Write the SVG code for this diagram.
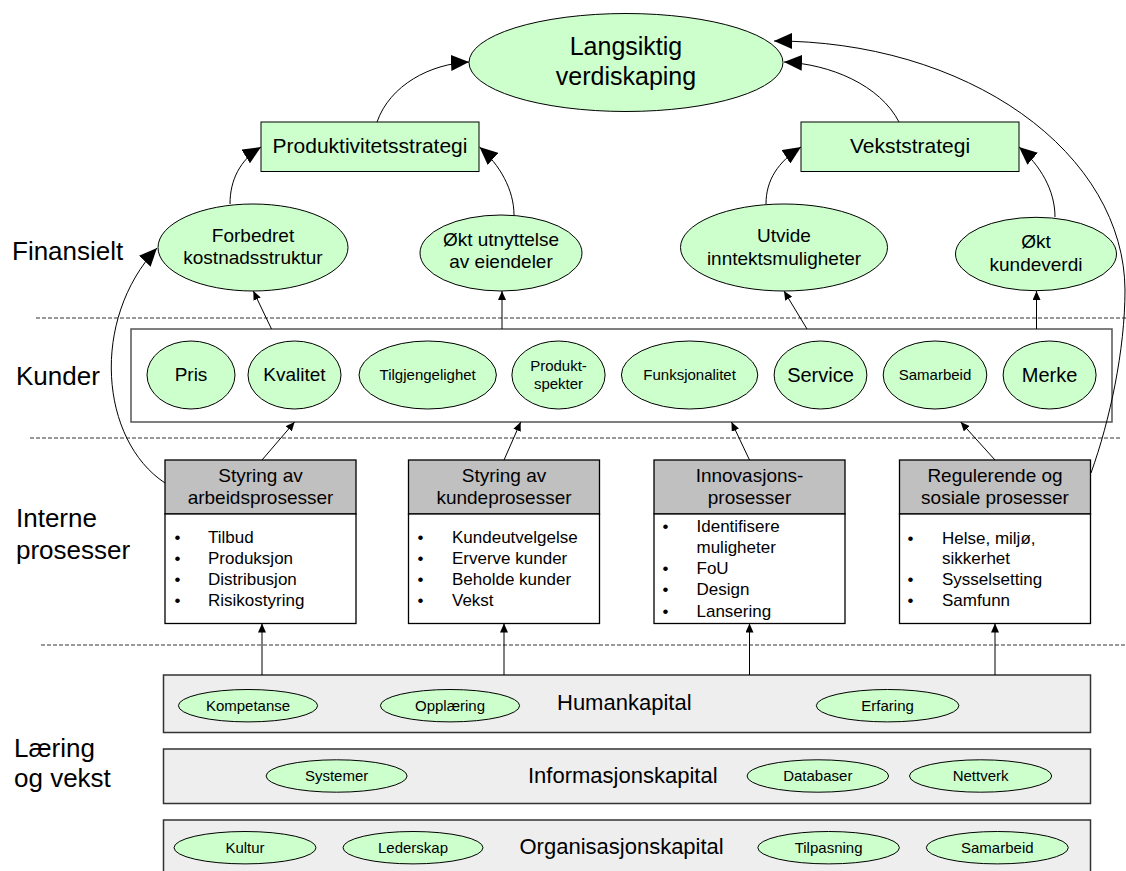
<svg xmlns="http://www.w3.org/2000/svg" width="1126" height="871" viewBox="0 0 1126 871">
<style>
text{font-family:"Liberation Sans",Arial,sans-serif;fill:#000}
.g{fill:#ccffcc;stroke:#000;stroke-width:1}
.c{text-anchor:middle}
.lbl{font-size:26px}
.f19{font-size:19px}
.f21{font-size:21px}
.f15{font-size:15px}
.f17{font-size:17px}
.f22{font-size:22px}
.hdr{fill:#c0c0c0;stroke:#000;stroke-width:1.3}
.body{fill:#fff;stroke:#000;stroke-width:1.3}
.layer{fill:#eeeeee;stroke:#333;stroke-width:1.5}
.dash{stroke:#333;stroke-width:1;stroke-dasharray:4 2;fill:none}
.ln{fill:none;stroke:#000;stroke-width:1}
</style>
<defs>
<marker id="big" markerUnits="userSpaceOnUse" markerWidth="18" markerHeight="16" refX="18" refY="8" orient="auto"><path d="M0,0 L18,8 L0,16 z" fill="#000"/></marker>
<marker id="sm" markerUnits="userSpaceOnUse" markerWidth="9" markerHeight="8" refX="9" refY="4" orient="auto"><path d="M0,0 L9,4 L0,8 z" fill="#000"/></marker>
</defs>

<g id="separators">
<line class="dash" x1="36" y1="318" x2="1126" y2="318"/>
<line class="dash" x1="30" y1="438" x2="1120" y2="438"/>
<line class="dash" x1="41" y1="645" x2="1126" y2="645"/>
</g>

<g id="labels">
<text class="lbl" x="12" y="260">Finansielt</text>
<text class="lbl" x="16" y="385">Kunder</text>
<text class="lbl" x="16" y="527">Interne</text>
<text class="lbl" x="16" y="559">prosesser</text>
<text class="lbl" x="14" y="757">Læring</text>
<text class="lbl" x="14" y="787">og vekst</text>
</g>

<g id="langsiktig">
<ellipse class="g" cx="626" cy="62.5" rx="157" ry="49"/>
<text class="c" x="626" y="55" font-size="25">Langsiktig</text>
<text class="c" x="626" y="85" font-size="25">verdiskaping</text>
</g>

<g id="produktivitetsstrategi">
<rect class="g" x="261" y="122" width="218" height="49.5"/>
<text class="c f21" x="370" y="153">Produktivitetsstrategi</text>
</g>

<g id="vekststrategi">
<rect class="g" x="801" y="122" width="218" height="49.5"/>
<text class="c f21" x="910" y="153">Vekststrategi</text>
</g>

<g id="forbedret">
<ellipse class="g" cx="253" cy="247.5" rx="95" ry="43.5"/>
<text class="c f19" x="253" y="242">Forbedret</text>
<text class="c f19" x="253" y="264">kostnadsstruktur</text>
</g>

<g id="okt-utnyttelse">
<ellipse class="g" cx="501" cy="253" rx="81" ry="38"/>
<text class="c f19" x="501" y="246">Økt utnyttelse</text>
<text class="c f19" x="501" y="268">av eiendeler</text>
</g>

<g id="utvide">
<ellipse class="g" cx="784" cy="247.5" rx="103.5" ry="43.5"/>
<text class="c f19" x="784" y="242">Utvide</text>
<text class="c f19" x="784" y="265">inntektsmuligheter</text>
</g>

<g id="okt-kundeverdi">
<ellipse class="g" cx="1036" cy="254" rx="80.5" ry="36.7"/>
<text class="c f19" x="1036" y="248">Økt</text>
<text class="c f19" x="1036" y="271">kundeverdi</text>
</g>

<g id="kunder">
<rect x="131" y="329" width="981" height="93" fill="#fff" stroke="#555" stroke-width="1.5"/>
<ellipse class="g" cx="191" cy="375" rx="44" ry="34"/>
<text class="c f19" x="191" y="381">Pris</text>
<ellipse class="g" cx="294.5" cy="375" rx="46.5" ry="34"/>
<text class="c f19" x="294.5" y="381">Kvalitet</text>
<ellipse class="g" cx="427.7" cy="375" rx="68.7" ry="34"/>
<text class="c f15" x="427.7" y="380">Tilgjengelighet</text>
<ellipse class="g" cx="558.5" cy="375" rx="46.6" ry="34"/>
<text class="c f15" x="558.5" y="371">Produkt-</text>
<text class="c f15" x="558.5" y="389">spekter</text>
<ellipse class="g" cx="689.6" cy="375" rx="68.2" ry="34"/>
<text class="c f15" x="689.6" y="380">Funksjonalitet</text>
<ellipse class="g" cx="820.5" cy="375" rx="46.4" ry="34"/>
<text class="c" x="820.5" y="382" font-size="20">Service</text>
<ellipse class="g" cx="935" cy="375" rx="51.8" ry="34"/>
<text class="c f15" x="935" y="380">Samarbeid</text>
<ellipse class="g" cx="1049.6" cy="375" rx="46.5" ry="34"/>
<text class="c" x="1049.6" y="382" font-size="20">Merke</text>
</g>

<g id="styring-arbeidsprosesser">
<rect class="hdr" x="165" y="460" width="191" height="54"/>
<rect class="body" x="165" y="514" width="191" height="109.5"/>
<text class="c f19" x="260.5" y="482">Styring av</text>
<text class="c f19" x="260.5" y="503.5">arbeidsprosesser</text>
<text class="f17" x="174.5" y="543">•</text><text class="f17" x="208" y="543">Tilbud</text>
<text class="f17" x="174.5" y="564">•</text><text class="f17" x="208" y="564">Produksjon</text>
<text class="f17" x="174.5" y="585">•</text><text class="f17" x="208" y="585">Distribusjon</text>
<text class="f17" x="174.5" y="605.5">•</text><text class="f17" x="208" y="605.5">Risikostyring</text>
</g>

<g id="styring-kundeprosesser">
<rect class="hdr" x="408.5" y="460" width="191" height="54"/>
<rect class="body" x="408.5" y="514" width="191" height="109.5"/>
<text class="c f19" x="504" y="482">Styring av</text>
<text class="c f19" x="504" y="503.5">kundeprosesser</text>
<text class="f17" x="417.5" y="543">•</text><text class="f17" x="452" y="543">Kundeutvelgelse</text>
<text class="f17" x="417.5" y="564">•</text><text class="f17" x="452" y="564">Erverve kunder</text>
<text class="f17" x="417.5" y="585">•</text><text class="f17" x="452" y="585">Beholde kunder</text>
<text class="f17" x="417.5" y="605.5">•</text><text class="f17" x="452" y="605.5">Vekst</text>
</g>

<g id="innovasjonsprosesser">
<rect class="hdr" x="654" y="460" width="191" height="54"/>
<rect class="body" x="654" y="514" width="191" height="109.5"/>
<text class="c f19" x="749.5" y="482">Innovasjons-</text>
<text class="c f19" x="749.5" y="503.5">prosesser</text>
<text class="f17" x="662.5" y="532">•</text><text class="f17" x="696.5" y="532">Identifisere</text>
<text class="f17" x="696.5" y="553">muligheter</text>
<text class="f17" x="662.5" y="574">•</text><text class="f17" x="696.5" y="574">FoU</text>
<text class="f17" x="662.5" y="595">•</text><text class="f17" x="696.5" y="595">Design</text>
<text class="f17" x="662.5" y="616.5">•</text><text class="f17" x="696.5" y="616.5">Lansering</text>
</g>

<g id="regulerende-prosesser">
<rect class="hdr" x="899.5" y="460" width="191" height="54"/>
<rect class="body" x="899.5" y="514" width="191" height="109.5"/>
<text class="c f19" x="995" y="482">Regulerende og</text>
<text class="c f19" x="995" y="503.5">sosiale prosesser</text>
<text class="f17" x="907.5" y="543.5">•</text><text class="f17" x="942" y="543.5">Helse, miljø,</text>
<text class="f17" x="942" y="564">sikkerhet</text>
<text class="f17" x="907.5" y="584.5">•</text><text class="f17" x="942" y="584.5">Sysselsetting</text>
<text class="f17" x="907.5" y="605.5">•</text><text class="f17" x="942" y="605.5">Samfunn</text>
</g>

<g id="humankapital">
<rect class="layer" x="163.5" y="675" width="927" height="57.5"/>
<ellipse class="g" cx="248" cy="705.7" rx="69.6" ry="16.2"/>
<text class="c f15" x="248" y="711">Kompetanse</text>
<ellipse class="g" cx="450" cy="705.7" rx="69.6" ry="16.2"/>
<text class="c f15" x="450" y="711">Opplæring</text>
<text class="f22" x="557" y="710">Humankapital</text>
<ellipse class="g" cx="887.6" cy="705.7" rx="71.3" ry="16.2"/>
<text class="c f15" x="887.6" y="711">Erfaring</text>
</g>

<g id="informasjonskapital">
<rect class="layer" x="163.5" y="749" width="927" height="54.5"/>
<ellipse class="g" cx="336.6" cy="776" rx="70.5" ry="16.2"/>
<text class="c f15" x="336.6" y="781">Systemer</text>
<text class="f22" x="528" y="783">Informasjonskapital</text>
<ellipse class="g" cx="817.8" cy="776" rx="70.8" ry="16.2"/>
<text class="c f15" x="817.8" y="781">Databaser</text>
<ellipse class="g" cx="980.6" cy="776" rx="71.1" ry="16.2"/>
<text class="c f15" x="980.6" y="781">Nettverk</text>
</g>

<g id="organisasjonskapital">
<rect class="layer" x="163.5" y="820" width="927" height="60"/>
<ellipse class="g" cx="245" cy="847.7" rx="71" ry="16.2"/>
<text class="c f15" x="245" y="853">Kultur</text>
<ellipse class="g" cx="413" cy="847.7" rx="70" ry="16.2"/>
<text class="c f15" x="413" y="853">Lederskap</text>
<text class="f22" x="519.5" y="853.5">Organisasjonskapital</text>
<ellipse class="g" cx="828.6" cy="847.7" rx="70.8" ry="16.2"/>
<text class="c f15" x="828.6" y="853">Tilpasning</text>
<ellipse class="g" cx="997.3" cy="847.7" rx="71" ry="16.2"/>
<text class="c f15" x="997.3" y="853">Samarbeid</text>
</g>

<g id="connectors">
<path class="ln" marker-end="url(#big)" d="M377,122 C390,85 430,64 469,62"/>
<path class="ln" marker-end="url(#big)" d="M899,122 C880,85 830,64 784,62"/>
<path class="ln" marker-end="url(#big)" d="M1091,473 C1110,420 1125,350 1125,290 A350,250 0 0 0 774,41"/>
<path class="ln" marker-end="url(#big)" d="M230,204 C230,180 240,160 261,147"/>
<path class="ln" marker-end="url(#big)" d="M514,215 C514,190 500,165 479.5,147"/>
<path class="ln" marker-end="url(#big)" d="M766,204 C766,180 778,162 801,147"/>
<path class="ln" marker-end="url(#big)" d="M1055,217 C1055,190 1040,165 1019,147"/>
<path class="ln" marker-end="url(#big)" d="M165,483 C100,440 90,320 157,248"/>
<path class="ln" marker-end="url(#sm)" d="M271.5,329 L253.3,291"/>
<path class="ln" marker-end="url(#sm)" d="M502,329 L502,291"/>
<path class="ln" marker-end="url(#sm)" d="M807,329 L784,291"/>
<path class="ln" marker-end="url(#sm)" d="M1036.5,329 L1036.5,291"/>
<path class="ln" marker-end="url(#sm)" d="M262,460 L294.6,422"/>
<path class="ln" marker-end="url(#sm)" d="M504,460 L520.7,422"/>
<path class="ln" marker-end="url(#sm)" d="M749.5,460 L731.5,422"/>
<path class="ln" marker-end="url(#sm)" d="M995,460 L960.7,422"/>
<path class="ln" marker-end="url(#sm)" d="M262,675 L262,623.5"/>
<path class="ln" marker-end="url(#sm)" d="M504,675 L504,623.5"/>
<path class="ln" marker-end="url(#sm)" d="M749.5,675 L749.5,623.5"/>
<path class="ln" marker-end="url(#sm)" d="M995,675 L995,623.5" stroke="#666" stroke-width="1.8"/>
</g>
</svg>
